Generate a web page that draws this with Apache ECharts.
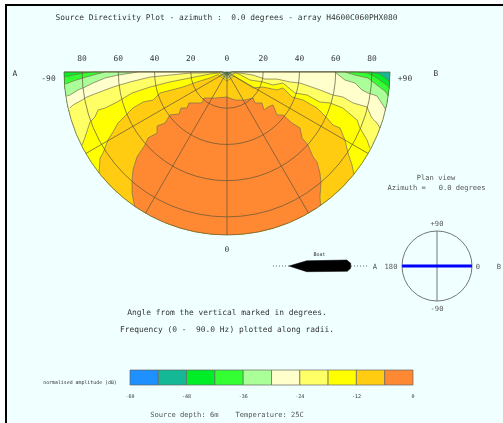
<!DOCTYPE html>
<html><head><meta charset="utf-8">
<script src="https://cdn.jsdelivr.net/npm/echarts@6/dist/echarts.min.js"></script>
<style>
html,body{margin:0;padding:0;background:#fff;overflow:hidden}
#frame{position:absolute;left:5px;top:4px;width:498px;height:419px;background:#f0ffff;border-left:2px solid #000;border-top:2px solid #000}
#c{position:absolute;left:0;top:0;width:503px;height:423px}
</style></head><body><div id="frame"></div><div id="c"></div>
<script>
// Colour bands: dB range lower bound, and colour
const bandLows = [-60,-54,-48,-42,-36,-30,-24,-18,-12,-6];
const bandColours = ['#1e90ff','#14b896','#00ee28','#33ff33','#aaff99','#ffffcc','#ffff66','#ffff00','#ffcc11','#ff8833'];
const colourTicks = [-60,-48,-36,-24,-12,0];

// Contours, each vertex = [Hz to the east of the array axis, Hz downward]
const contourM48 = [[-90,0],[-2,0],[0,1.2],[2,0],[79.5,0],[84.5,1.1],[88.9,4.4],[90,5.5]];
const contourM42 = [[-89.6,2.8],[-85,1.7],[-79.5,0.6],[-74,0],[-2.4,0],[0,1.6],[2.4,0],[71.8,0],[77.8,0.6],[82.8,3.3],[88.3,7.2],[90,8.8]];
const contourM36 = [[-88.9,6.6],[-85,5],[-79.5,3.3],[-74,1.7],[-67.3,0],[-2.8,0],[0,2.2],[2.8,0],[65.1,0],[70.7,1.7],[77.8,3.3],[82.8,7.2],[87.2,10.5],[89.4,13.2]];
const contourM30 = [[-88.3,13.2],[-86.7,12.7],[-82.2,9.9],[-78.4,8.3],[-74,6.1],[-67.3,3.3],[-60.2,1.7],[-51.9,0.4],[-49.1,0],[-3.2,0],[0,2.8],[3.2,0],[59.6,0],[65.1,4.4],[70.7,6.1],[74.5,9.9],[77.8,11.6],[82.8,13.2],[87.2,19.9],[88.3,21]];
const contourM24 = [[-86.7,19.9],[-85,18.2],[-80,15.5],[-77.3,13.8],[-70.1,11],[-62.9,8.3],[-53.5,5.5],[-42.5,2.8],[-31.5,1.7],[-20.4,0.6],[-9.4,0.4],[-4,0.3],[0,3.4],[4,0.3],[7.2,0.6],[14.4,1.7],[21,3.9],[27.6,3.9],[34.8,5.5],[40.3,6.1],[51.3,9.9],[58.5,12.7],[64,13.8],[69.6,17.1],[77.3,19.3],[80,25.4],[82.8,28.2],[84.5,30.9]];
const contourM18 = [[-80,40.3],[-78.9,37.5],[-75.6,27.6],[-72.9,24.8],[-71.2,21],[-67.3,19.9],[-60.7,16.6],[-52.4,11.6],[-42.5,8.3],[-31.5,5.5],[-20.4,3.3],[-9.4,1.1],[-4.5,0.5],[0,4],[4.5,0.5],[6.5,1.1],[12.7,4.4],[19.9,5.5],[25.4,7.2],[30.9,6.1],[37.5,11.6],[44.2,12.7],[51.3,16.6],[56.9,17.1],[64,19.9],[71.8,26.5],[73.4,30.9],[77.3,37.5],[78.9,42]];
const contourM12 = [[-70.7,55.8],[-70.1,47.5],[-68.4,44.7],[-65.7,37.5],[-62.9,33.1],[-60.2,28.2],[-51.9,19.9],[-46.4,16.6],[-40.8,15.5],[-37,11.6],[-24.3,8.3],[-16.6,5.5],[-9.4,3.3],[-5,1.4],[0,5],[4,2.2],[6,3.6],[14.4,8.8],[19.9,8.3],[27.6,9.9],[30.9,8.8],[35.9,13.8],[42,15.5],[49.7,19.9],[55.2,25.4],[58.5,29.3],[62.4,30.9],[65.1,37.5],[66.8,44.7],[69,51.3],[70.1,56.3]];
const contourM6 = [[-51.3,74.5],[-52.4,66.8],[-52.4,59.6],[-51.9,54.1],[-49.7,46.9],[-45.3,40.3],[-43.6,36.4],[-38.6,33.7],[-38.6,29.8],[-34.2,28.2],[-31.5,23.7],[-26.5,23.2],[-25.4,19.9],[-22.1,19.9],[-21,17.1],[-13.8,17.1],[-12.7,14.4],[-6.6,14.4],[0,13.8],[4.4,15.5],[9.9,15.5],[14.4,14.4],[15.5,17.1],[19.3,17.1],[20.4,21],[22.6,19.3],[25.4,18.2],[27.6,23.7],[30.9,23.7],[35.9,28.2],[40.3,30.9],[41.4,36.4],[44.7,40.3],[47.5,46.9],[49.7,49.7],[51.3,55.8],[51.9,61.3],[51.3,69],[51.9,74]];
const contours = [contourM48,contourM42,contourM36,contourM30,contourM24,contourM18,contourM12,contourM6];
const contourColours = bandColours.slice(2);

const rimHz = 90;
const angleLabels = [[80,-90,'80'],[60,-90,'60'],[40,-90,'40'],[20,-90,'20'],[0,0,'0'],[20,90,'20'],[40,90,'40'],[60,90,'60'],[80,90,'80']];

// Plan-view azimuth line and cross line: [radius, angle]
const azimuthLine = [[1,180],[0,0],[1,0]];
const crossLine = [[1,90],[0,0],[1,270]];

// Boat outline in boat-frame units
const boatHull = [[16,0],[33.7,5.2],[73.7,6],[77.7,2.8],[77.7,-2.2],[74.3,-5.3],[33.7,-5.7]];
const boatWake = [[0,0],[16,0],[null,null],[78,0],[94,0]];

const MONO = '"DejaVu Sans Mono","Liberation Mono",monospace';
const txt = (x,y,t,opt={}) => ({type:'text',x,y,silent:true,z:20,style:Object.assign({
  text:t,fill:'#333',font:'7.9px '+MONO,textAlign:'center',textVerticalAlign:'middle'},opt)});

function toPolar(p){
  const r = Math.min(Math.hypot(p[0],p[1]),rimHz);
  return [r, Math.atan2(p[0],p[1])*180/Math.PI];
}
function renderBase(params,api){
  const pts=[];
  for(let a=-90;a<=90;a+=1) pts.push(api.coord([rimHz,a]));
  return {type:'polygon',shape:{points:pts},style:{fill:bandColours[1]}};
}
function renderContour(params,api){
  const c = contours[params.dataIndex];
  const curve = c.map(p=>api.coord(toPolar(p)));
  const pts = curve.slice();
  // close along the outer rim, right edge to left edge
  const a1 = toPolar(c[c.length-1])[1], a0 = toPolar(c[0])[1];
  for(let a=a1;a>a0;a-=1) pts.push(api.coord([rimHz,a]));
  pts.push(curve[0]);
  return {type:'group',children:[
    {type:'polygon',shape:{points:pts},style:{fill:contourColours[params.dataIndex]}},
    {type:'polyline',shape:{points:curve},style:{fill:null,stroke:'#77704e',lineWidth:0.7}}
  ]};
}
function renderTopLabel(params,api){
  const d = angleLabels[params.dataIndex];
  const pt = api.coord([d[0],d[1]]);
  return {type:'text',x:pt[0],y:72-13,style:{text:d[2],fill:'#333',font:'7.9px '+MONO,textAlign:'center',textVerticalAlign:'middle'}};
}
function renderBar(params,api){
  const lo = bandLows[params.dataIndex], hi = lo+6;
  const a = api.coord([lo,1]), b = api.coord([hi,0]);
  return {type:'rect',shape:{x:a[0],y:a[1],width:b[0]-a[0],height:b[1]-a[1]},
    style:{fill:bandColours[params.dataIndex],stroke:'#666',lineWidth:0.7}};
}
function renderHull(params,api){
  return {type:'polygon',shape:{points:boatHull.map(p=>api.coord(p))},style:{fill:'#000',stroke:'#000',lineWidth:0.5}};
}

const chart = echarts.init(document.getElementById('c'),null,{renderer:'canvas'});
chart.setOption({
  animation:false,
  backgroundColor:'transparent',
  polar:[{center:[227,72],radius:[0,163]},{center:[437,266],radius:[0,35]}],
  angleAxis:[
    {polarIndex:0,type:'value',min:-90,max:90,interval:30,startAngle:180,endAngle:360,clockwise:false,z:5,
      axisLine:{show:false},axisTick:{show:false},axisLabel:{show:false},
      splitLine:{show:true,lineStyle:{color:'#5c5438',width:0.7}}},
    {polarIndex:1,type:'value',min:0,max:360,interval:90,startAngle:0,clockwise:false,
      axisLine:{show:true,lineStyle:{color:'#666',width:0.9}},axisTick:{show:false},axisLabel:{show:false},splitLine:{show:false}}
  ],
  radiusAxis:[
    {polarIndex:0,type:'value',min:0,max:rimHz,interval:20,z:5,
      axisLine:{show:false},axisTick:{show:false},axisLabel:{show:false},
      splitLine:{show:true,lineStyle:{color:'#5c5438',width:0.7}}},
    {polarIndex:1,type:'value',min:0,max:1,
      axisLine:{show:false},axisTick:{show:false},axisLabel:{show:false},splitLine:{show:false}}
  ],
  grid:[
    {left:130,width:283,top:370,height:15,show:false},
    {left:273,width:94,top:256,height:20,show:false}
  ],
  xAxis:[
    {gridIndex:0,type:'value',min:-60,max:0,interval:12,
      axisLine:{show:false},axisTick:{show:false},splitLine:{show:false},
      axisLabel:{show:true,fontSize:5,fontFamily:MONO,color:'#333',margin:9,showMinLabel:true,showMaxLabel:true,
        customValues:colourTicks}},
    {gridIndex:1,type:'value',min:0,max:94,show:false}
  ],
  yAxis:[
    {gridIndex:0,type:'value',min:0,max:1,show:false},
    {gridIndex:1,type:'value',min:-10,max:10,show:false}
  ],
  series:[
    {type:'custom',coordinateSystem:'polar',polarIndex:0,z:1,clip:false,silent:true,data:[0],renderItem:renderBase},
    {type:'custom',coordinateSystem:'polar',polarIndex:0,z:2,clip:false,silent:true,data:contours.map((c,i)=>i),renderItem:renderContour},
    {type:'custom',coordinateSystem:'polar',polarIndex:0,z:6,clip:false,silent:true,data:angleLabels.map((d,i)=>i),renderItem:renderTopLabel},
    {type:'line',coordinateSystem:'polar',polarIndex:1,z:3,silent:true,symbol:'none',data:crossLine,lineStyle:{color:'#777',width:1}},
    {type:'line',coordinateSystem:'polar',polarIndex:1,z:4,silent:true,symbol:'none',data:azimuthLine,lineStyle:{color:'#0000ff',width:3}},
    {type:'custom',coordinateSystem:'cartesian2d',xAxisIndex:0,yAxisIndex:0,silent:true,data:bandLows,renderItem:renderBar},
    {type:'custom',coordinateSystem:'cartesian2d',xAxisIndex:1,yAxisIndex:1,silent:true,data:[0],renderItem:renderHull},
    {type:'line',xAxisIndex:1,yAxisIndex:1,silent:true,symbol:'none',connectNulls:false,data:boatWake,lineStyle:{color:'#444',width:0.8,type:[1,2]}}
  ],
  graphic:{elements:[
    txt(226.5,17.5,'Source Directivity Plot - azimuth :  0.0 degrees - array H4600C060PHX080'),
    txt(15,74,'A'), txt(436,74,'B'),
    txt(48.5,78.5,'-90'), txt(405,78.5,'+90'),
    txt(227,250,'0'),
    txt(436,178.5,'Plan view',{font:'7.1px '+MONO,fill:'#555'}),
    txt(436.5,188.5,'Azimuth =   0.0 degrees',{font:'7.1px '+MONO,fill:'#555'}),
    txt(319.5,255,'Boat',{font:'5px '+MONO}),
    txt(375,267,'A',{font:'7.1px '+MONO,fill:'#555'}),
    txt(437,224.5,'+90',{font:'7.1px '+MONO,fill:'#555'}), txt(437,309.5,'-90',{font:'7.1px '+MONO,fill:'#555'}),
    txt(391,267,'180',{font:'7.1px '+MONO,fill:'#555'}), txt(478,267,'0',{font:'7.1px '+MONO,fill:'#555'}), txt(499,267,'B',{font:'7.1px '+MONO,fill:'#555'}),
    txt(227,313,'Angle from the vertical marked in degrees.'),
    txt(227,329.5,'Frequency (0 -  90.0 Hz) plotted along radii.'),
    txt(80,382.5,'normalised amplitude (dB)',{font:'4.9px '+MONO}),
    txt(227,415,'Source depth: 6m    Temperature: 25C',{font:'7.1px '+MONO,fill:'#555'})
  ]}
});
</script></body></html>
